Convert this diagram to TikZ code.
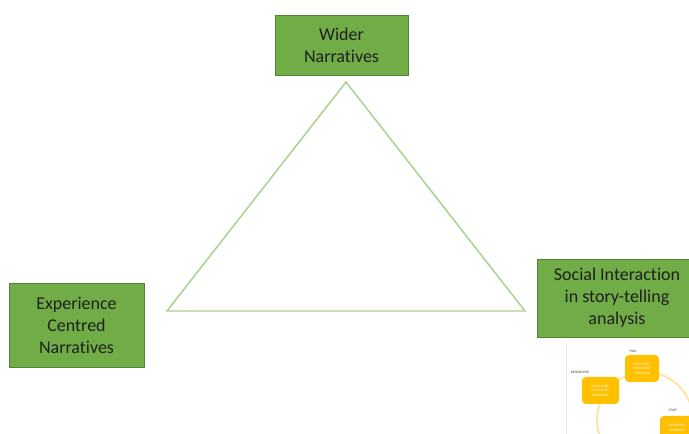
\documentclass[tikz,border=0pt]{standalone}
\usepackage{fontspec}
\setmainfont{Carlito}[Ligatures={NoCommon}]
\definecolor{boxgreen}{HTML}{70AD47}
\definecolor{boxedge}{HTML}{548235}
\definecolor{triline}{HTML}{A9D18E}
\definecolor{txtdark}{HTML}{1E1E1E}
\definecolor{roleorange}{HTML}{FFC000}
\definecolor{ringorange}{HTML}{FFE29A}
\begin{document}
\begin{tikzpicture}[x=0.75pt,y=-0.75pt,
  themebox/.style={draw=boxedge,line width=0.6pt,fill=boxgreen,
    text=txtdark,align=center,inner sep=0pt,
    font=\fontsize{13.5}{16.5}\selectfont},
  rolebox/.style={fill=roleorange,rounded corners=3pt,inner sep=0pt,
    text=white!92!roleorange,align=center,
    font=\fontsize{2.6}{3.3}\selectfont},
  rolelabel/.style={text=black!75,inner sep=0pt,
    font=\fontsize{2.6}{3.3}\selectfont}]
\useasboundingbox (0,0) rectangle (689,434);

% the three themes
\node[themebox,minimum width=133*0.75pt,minimum height=60*0.75pt]
  (wider) at (341.5,45) {Wider\\Narratives};
\node[themebox,minimum width=135*0.75pt,minimum height=84*0.75pt]
  (exp) at (76.5,325) {Experience\\Centred\\Narratives};
\node[themebox,minimum width=160*0.75pt,minimum height=78*0.75pt]
  (social) at (617,298) {Social Interaction\\in story-telling\\analysis};

% triangle linking the themes
\coordinate (apex) at (346,82);
\coordinate (bl) at (167,311);
\coordinate (br) at (525,311);
\draw[triline,line width=1.1pt,line join=miter] (apex) -- (br) -- (bl) -- cycle;

% small role diagram under the social interaction box
\draw[black!8,line width=0.5pt] (566,343) -- (566,434);
\coordinate (ringc) at (645,420);
\draw[ringorange,line width=1.3pt] (ringc) circle[radius=48*0.75pt];
\node[rolebox,minimum width=34*0.75pt,minimum height=27*0.75pt]
  (pwdbox) at (642,368.5) {PRODUCER-\\CONSUMER-\\PRODUCER};
\node[rolebox,minimum width=37*0.75pt,minimum height=27*0.75pt]
  (resbox) at (600.5,390.5) {CONSUMER-\\CONSUMER-\\CONSUMER};
\node[rolebox,minimum width=34*0.75pt,minimum height=24*0.75pt]
  (staffbox) at (677,428) {CONSUMER-\\PRODUCER};
\node[rolelabel] (pwd) at (633,351) {PWD};
\node[rolelabel] (res) at (580,372) {RESEARCHER};
\node[rolelabel] (staff) at (673,410) {STAFF};
\end{tikzpicture}
\end{document}
